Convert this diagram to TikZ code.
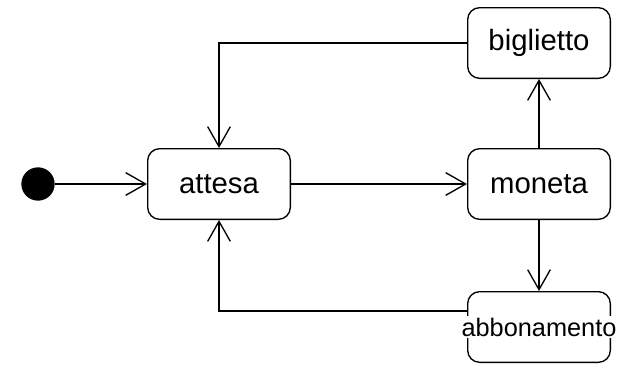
\documentclass[tikz,border=0pt]{standalone}
\usepackage{fontspec}
\setmainfont{Liberation Sans}
\usetikzlibrary{arrows.meta,positioning}
\tikzset{
    state/.style={draw, rounded corners=9pt, line width=1pt, minimum width=107pt,
        minimum height=53pt, inner sep=0pt, font=\fontsize{22}{26}\selectfont},
    trans/.style={line width=1pt, -{Straight Barb[length=15pt,width=17pt,line width=1pt]}}
}
\begin{document}
\begin{tikzpicture}[x=0.75pt,y=-0.75pt]
    \useasboundingbox (0,0) rectangle (625,365);
    % states
    \node[circle, fill=black, minimum size=25pt, inner sep=0pt] (init) at (38,184) {};
    \node[state] (attesa) at (219,184) {attesa};
    \node[state] (moneta) at (539,184) {moneta};
    \node[state] (biglietto) at (539,43) {biglietto};
    \node[state, font=\fontsize{19}{23}\selectfont] (abbonamento) at (539,327)
        {\makebox[0pt]{\setlength\fboxsep{1pt}\colorbox{white}{abbonamento}}};
    % transitions
    \draw[trans] (init) -- (attesa);
    \draw[trans] (attesa) -- (moneta);
    \draw[trans] (moneta) -- (biglietto);
    \draw[trans] (moneta) -- (abbonamento);
    \draw[trans] (biglietto) -| (attesa);
    \draw[trans] ([yshift=12pt]abbonamento.west) -| (attesa);
\end{tikzpicture}
\end{document}
